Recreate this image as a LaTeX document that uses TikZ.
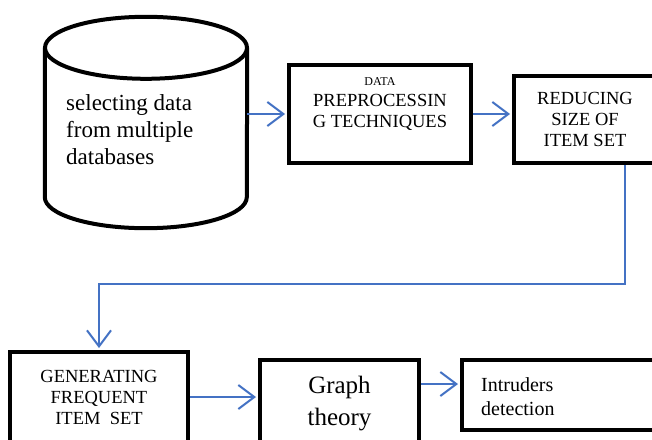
\documentclass[tikz,border=0pt]{standalone}
\usepackage{fontspec}
\setmainfont{Liberation Serif}
\usetikzlibrary{arrows.meta}
\definecolor{arrowblue}{RGB}{68,114,196}
\begin{document}
\begin{tikzpicture}[x=1pt,y=1pt,
  box/.style={draw, line width=4pt, inner sep=0pt, align=center},
  lbl/.style={inner sep=0pt, align=center},
  thickline/.style={line width=4pt},
  arr/.style={draw=arrowblue, line width=2pt, shorten >=2pt, -{Straight Barb[length=16pt,width=24pt]}},
  f18/.style={font=\fontsize{18.5}{21}\selectfont}]
\path[use as bounding box, clip] (0,0) rectangle (652,-439);
\fill[white] (0,0) rectangle (652,-439);
% cylinder
\node[minimum width=202pt, minimum height=149pt, inner sep=0pt] (db) at (146,-122.5) {};
\draw[thickline] (db.north west) -- (db.south west)
  arc[start angle=180, end angle=360, x radius=101pt, y radius=31pt] -- (db.north east);
\draw[thickline] (db.north) ellipse [x radius=101pt, y radius=31pt];
\node[anchor=west, align=left, inner sep=0pt, font=\fontsize{23}{27}\selectfont] (dbt) at (66,-130) {selecting data\\from multiple\\databases};
% boxes
\node[box, minimum width=182pt, minimum height=98pt] (b2) at (380,-114) {};
\node[lbl, f18] (t2) at (380,-104) {{\fontsize{12}{14}\selectfont DATA}\\PREPROCESSIN\\G TECHNIQUES};
\node[box, f18, minimum width=142pt, minimum height=87pt] (b3) at (585,-119.5) {REDUCING\\SIZE OF\\ITEM SET};
\node[box, f18, minimum width=178pt, minimum height=90pt] (b4) at (99,-397) {GENERATING\\FREQUENT\\ITEM\ \ SET};
\node[box, font=\fontsize{25}{32}\selectfont, minimum width=159pt, minimum height=88pt] (b5) at (339.5,-404) {Graph\\theory};
\node[box, minimum width=238pt, minimum height=70pt] (b6) at (581,-395) {};
\node[anchor=west, align=left, inner sep=0pt, font=\fontsize{20}{24}\selectfont] (t6) at (481,-397) {Intruders\\detection};
% connectors
\draw[arr] (db.east |- b2.west) -- (b2.west);
\draw[arr] (b2.east) -- (b3.west |- b2.east);
\coordinate (turn) at (625,-284);
\draw[arr] (b3.south -| turn) -- (turn) -| (b4.north);
\draw[arr] (b4.east) -- ([yshift=7pt]b5.west);
\coordinate (a6) at ([yshift=11pt]b6.west);
\draw[arr] (b5.east |- a6) -- (a6);
\end{tikzpicture}
\end{document}
